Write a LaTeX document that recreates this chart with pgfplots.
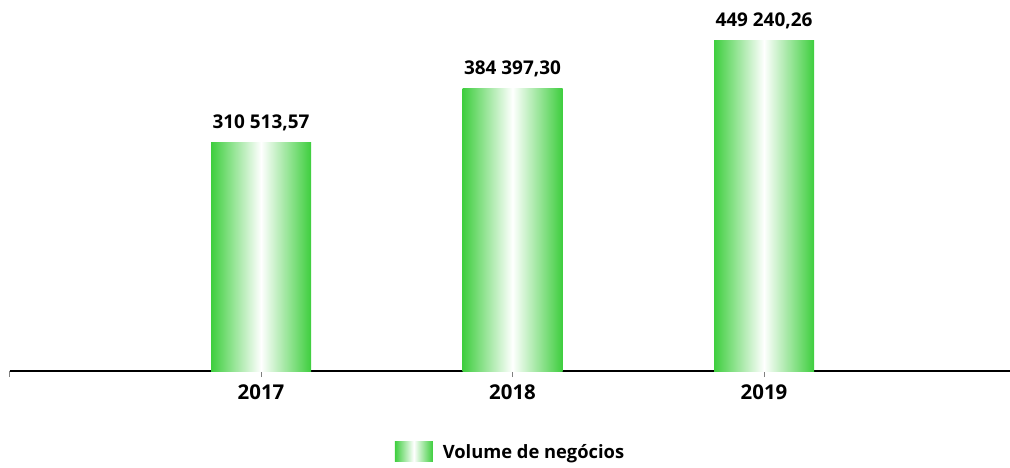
\documentclass[border=0pt]{standalone}
\usepackage{pgfplots}
\pgfplotsset{compat=1.18}
\usepackage{fontspec}
\setmainfont{Open Sans}
\definecolor{barg}{RGB}{62,206,62}
\begin{document}
\begin{tikzpicture}
\useasboundingbox (-9.5bp,-97bp) rectangle (1000.5bp,371bp);
\begin{axis}[
  scale only axis,
  width=1006bp, height=371bp,
  xmin=0, xmax=4, ymin=0, ymax=505000,
  axis x line*=bottom,
  axis y line=none,
  axis line style={black, line width=2bp},
  xtick={0,1,2,3},
  xticklabels={,2017,2018,2019},
  tick align=outside,
  major tick length=6bp,
  xtick style={gray, line width=1bp},
  xticklabel style={font=\bfseries\fontsize{20.5}{24}\selectfont, yshift=-4bp},
  ytick=\empty,
  clip=false,
  legend style={at={(0.498,-0.218)}, anchor=center, draw=none,
    font=\bfseries\fontsize{18.4}{22}\selectfont, inner sep=0pt},
  legend image code/.code={\fill[left color=barg, right color=barg, middle color=white] (0bp,-10bp) rectangle (38bp,10bp);\path (0bp,0bp) -- (46bp,0bp);},
  nodes near coords,
  point meta=explicit symbolic,
  every node near coord/.append style={font=\bfseries\fontsize{19}{22}\selectfont, anchor=south, yshift=8bp, black},
]
\addplot[ybar, bar width=100bp, draw=none, left color=barg, right color=barg, middle color=white]
  coordinates {(1,310513.57) [310 513,57]};
\addlegendentry{Volume de negócios}
\addplot[ybar, bar width=100bp, draw=none, left color=barg, right color=barg, middle color=white, forget plot]
  coordinates {(2,384397.30) [384 397,30]};
\addplot[ybar, bar width=100bp, draw=none, left color=barg, right color=barg, middle color=white, forget plot]
  coordinates {(3,449240.26) [449 240,26]};
\end{axis}
\end{tikzpicture}
\end{document}
